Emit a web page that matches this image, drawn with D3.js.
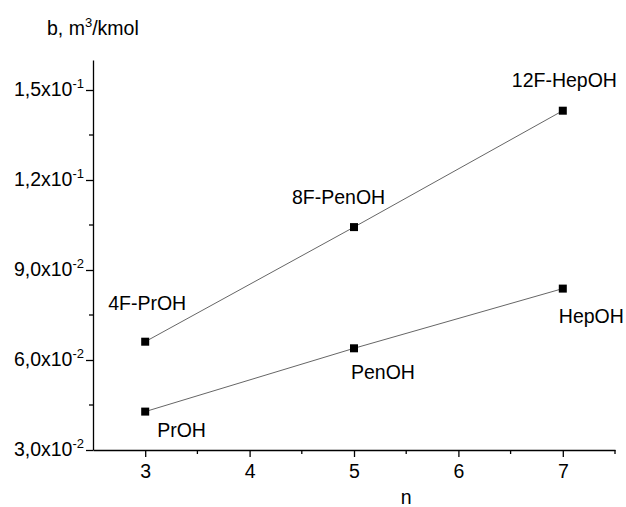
<!DOCTYPE html>
<html>
<head>
<meta charset="utf-8">
<script src="https://cdn.jsdelivr.net/npm/d3@7"></script>
<style>
  body { margin: 0; background: #fff; }
  text { font-family: "Liberation Sans", Arial, sans-serif; fill: #000; }
</style>
</head>
<body>
<svg id="Vis" width="626" height="507"></svg>
<script>
// data
var nValues   = [3, 5, 7];
var fluoroB   = [0.0661, 0.1043, 0.1431];
var alcoholB  = [0.0428, 0.0639, 0.0838];
var fluoroNames  = ["4F-PrOH", "8F-PenOH", "12F-HepOH"];
var alcoholNames = ["PrOH", "PenOH", "HepOH"];

var xTicks = [3, 4, 5, 6, 7];
var yTicks = [0.03, 0.06, 0.09, 0.12, 0.15];
var yTickMant = ["3,0", "6,0", "9,0", "1,2", "1,5"];
var yTickExp  = ["-2", "-2", "-2", "-1", "-1"];

// label nudges (px) relative to each point
var fluoroOff  = [[-37, -32], [-62, -23], [-51, -24]];
var alcoholOff = [[12, 25], [-3, 31], [-4, 34]];

var svg = d3.select("#Vis");
var plotL = 93, plotR = 615, plotT = 60, plotB = 450;
var fs = "19.5px", fsSup = "13px";

var x = d3.scaleLinear().domain([2.5, 7.5]).range([plotL, plotR]);
var y = d3.scaleLinear().domain([0.03, 0.16]).range([plotB, plotT]);

// x axis
var xAxis = d3.axisBottom(x).tickValues(xTicks).tickFormat(d3.format("d"))
  .tickSize(7).tickSizeOuter(0).tickPadding(7);
var gx = svg.append("g").attr("transform", "translate(0," + plotB + ")").call(xAxis);
gx.selectAll(".tick text").style("font-size", fs).style("font-family", "Liberation Sans, Arial, sans-serif");
var xMinor = d3.range(3.5, 7.6, 1);
gx.selectAll(".minor").data(xMinor).enter().append("line")
  .attr("x1", function(d){ return x(d); }).attr("x2", function(d){ return x(d); })
  .attr("y1", 0).attr("y2", 4).attr("stroke", "#000");

// y axis
var yAxis = d3.axisLeft(y).tickValues(yTicks).tickSize(7).tickSizeOuter(0).tickFormat("");
var gy = svg.append("g").attr("transform", "translate(" + plotL + ",0)").call(yAxis);
var yMinor = d3.range(0.045, 0.16, 0.03);
gy.selectAll(".minor").data(yMinor).enter().append("line")
  .attr("x1", 0).attr("x2", -4)
  .attr("y1", function(d){ return y(d); }).attr("y2", function(d){ return y(d); })
  .attr("stroke", "#000");
gx.selectAll("path, line").attr("stroke-width", 1.3);
gy.selectAll("path, line").attr("stroke-width", 1.3);

var yl = svg.append("g").selectAll("text").data(yTicks).enter().append("text")
  .attr("x", plotL - 9)
  .attr("y", function(d){ return y(d) + 6; })
  .attr("text-anchor", "end")
  .style("font-size", fs);
yl.append("tspan").text(function(d, i){ return yTickMant[i] + "x10"; });
yl.append("tspan").attr("dy", -8).style("font-size", fsSup).text(function(d, i){ return yTickExp[i]; });

// axis titles
var t = svg.append("text").attr("x", 47).attr("y", 35).style("font-size", fs);
t.append("tspan").text("b, m");
t.append("tspan").attr("dy", -8).style("font-size", fsSup).text("3");
t.append("tspan").attr("dy", 8).text("/kmol");
svg.append("text").attr("x", x(5.5)).attr("y", 504).attr("text-anchor", "middle")
  .style("font-size", fs).text("n");

// series
var line = d3.line().x(function(d){ return x(d[0]); }).y(function(d){ return y(d[1]); });
function drawSeries(vals, names, offs) {
  var pts = nValues.map(function(n, i){ return [n, vals[i]]; });
  svg.append("path").datum(pts).attr("d", line)
    .attr("fill", "none").attr("stroke", "#666").attr("stroke-width", 1);
  svg.append("g").selectAll("rect").data(pts).enter().append("rect")
    .attr("x", function(d){ return x(d[0]) - 4; })
    .attr("y", function(d){ return y(d[1]) - 4; })
    .attr("width", 8).attr("height", 8).attr("fill", "#000");
  svg.append("g").selectAll("text").data(pts).enter().append("text")
    .attr("x", function(d, i){ return x(d[0]) + offs[i][0]; })
    .attr("y", function(d, i){ return y(d[1]) + offs[i][1]; })
    .style("font-size", fs)
    .text(function(d, i){ return names[i]; });
}
drawSeries(fluoroB, fluoroNames, fluoroOff);
drawSeries(alcoholB, alcoholNames, alcoholOff);
</script>
</body>
</html>
